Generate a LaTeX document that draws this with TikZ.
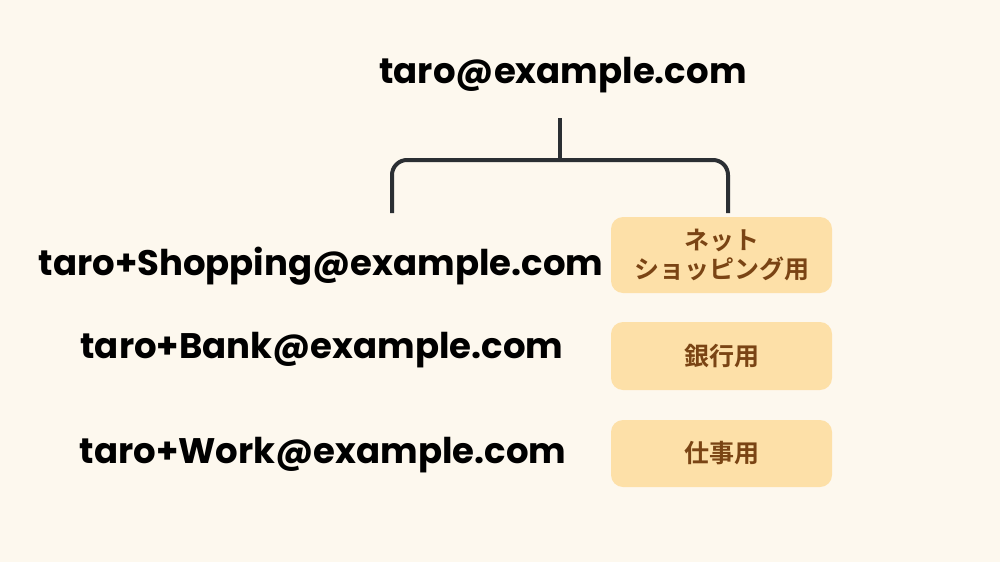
\documentclass[tikz,border=0pt]{standalone}
\usepackage{fontspec}
\setmainfont{Poppins}[BoldFont={* Bold}]
\newfontfamily\jpfont{Noto Sans CJK JP}[BoldFont={* Bold}]
\definecolor{bg}{HTML}{FDF8EE}
\definecolor{boxfill}{HTML}{FDE0A8}
\definecolor{boxtext}{HTML}{7A4414}
\definecolor{linec}{HTML}{2B2F33}
\begin{document}
\begin{tikzpicture}[x=1pt,y=-1pt,
  addr/.style={font=\fontsize{35.5}{40}\selectfont\bfseries, text=black, inner sep=0pt},
  tag/.style={rounded corners=12pt, fill=boxfill, minimum width=221pt, inner sep=0pt, text=boxtext, font=\jpfont\fontsize{25}{29}\selectfont\bfseries, align=center},
  bracket/.style={draw=linec, line width=4pt}]
\fill[bg] (0,0) rectangle (1000,562);
\useasboundingbox (0,0) rectangle (1000,562);
\node[addr] (top) at (563,75) {taro@example.com};
\node[addr] (shop) at (321,266) {taro+Shopping@example.com};
\node[addr] (bank) at (322,350) {taro+Bank@example.com};
\node[addr] (work) at (323,455) {taro+Work@example.com};
\node[tag, minimum height=76pt] (tshop) at (721.5,255) {ネット\\ショッピング用};
\node[tag, minimum height=68pt] (tbank) at (721.5,356) {銀行用};
\node[tag, minimum height=67pt] (twork) at (721.5,453.5) {仕事用};
\coordinate (stem) at (560,118);
\coordinate (mid) at (560,160);
\coordinate (lend) at (392,213);
\coordinate (rend) at (728,213);
\draw[bracket] (stem) -- (mid);
\draw[bracket, rounded corners=15pt] (lend) |- (mid) -| (rend);
\end{tikzpicture}
\end{document}
